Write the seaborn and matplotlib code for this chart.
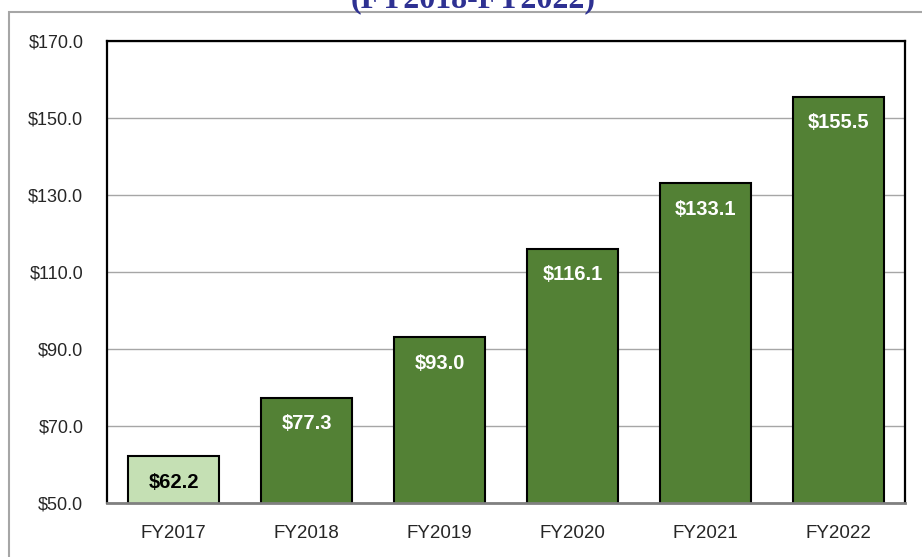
import numpy as np
import matplotlib
matplotlib.use("Agg")
import matplotlib.pyplot as plt
import seaborn as sns
import pandas as pd
from matplotlib.patches import Rectangle
from matplotlib.ticker import FuncFormatter

years = ["FY2017", "FY2018", "FY2019", "FY2020", "FY2021", "FY2022"]
values = [62.2, 77.3, 93.0, 116.1, 133.1, 155.5]
bar_colors = ["#C5E0B4", "#538135", "#538135", "#538135", "#538135", "#538135"]
label_colors = ["black", "white", "white", "white", "white", "white"]
title = "(FY2018-FY2022)"

sns.set_theme(style="white")
plt.rcParams["font.family"] = ["Liberation Sans", "DejaVu Sans"]

df = pd.DataFrame({"year": years, "value": values})

fig = plt.figure(figsize=(9.22, 5.57), dpi=100)
ax = fig.add_axes([107 / 922, 54 / 557, 798 / 922, 462 / 557])

sns.barplot(
    data=df, x="year", y="value", hue="year", palette=bar_colors,
    width=0.685, edgecolor="black", linewidth=1.5, legend=False, ax=ax,
    saturation=1,
)

ax.set_ylim(50, 170)
ax.set_yticks(np.arange(50, 171, 20))
ax.yaxis.set_major_formatter(FuncFormatter(lambda v, p: f"${v:.1f}"))
ax.grid(axis="y", color="#A6A6A6", linewidth=1)
ax.set_axisbelow(True)
ax.set_xlabel("")
ax.set_ylabel("")
ax.tick_params(axis="y", labelsize=13, pad=17, length=0)
ax.tick_params(axis="x", labelsize=13.5, pad=16, length=0)

for side in ["top", "right", "left"]:
    ax.spines[side].set_color("black")
    ax.spines[side].set_linewidth(1.6)
ax.spines["bottom"].set_color("#808080")
ax.spines["bottom"].set_linewidth(2)

for i, (v, c) in enumerate(zip(values, label_colors)):
    ax.annotate(
        f"${v:.1f}", xy=(i, v), xytext=(0, -26), textcoords="offset pixels",
        ha="center", va="center", fontsize=14.5, fontweight="bold", color=c,
    )

# outer chart frame
fig.patches.append(Rectangle(
    (9 / 922, -0.02), 1.0, 0.02 + (557 - 12) / 557, transform=fig.transFigure,
    fill=False, edgecolor="#A6A6A6", linewidth=1.5,
))

fig.text(
    473 / 922, 1 - 7 / 557, title, ha="center", va="baseline",
    fontsize=23, fontweight="bold", color="#2E3192",
    family=["Liberation Serif", "DejaVu Serif"],
)

fig.savefig("out.png", dpi=100)
